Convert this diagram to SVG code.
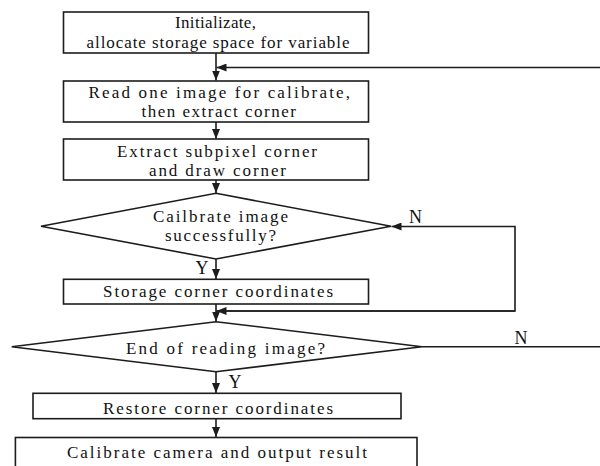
<svg xmlns="http://www.w3.org/2000/svg" width="600" height="466" viewBox="0 0 600 466">
<defs>
<style>
.s{fill:#fff;stroke:#1c1c1c;stroke-width:1.6}
.c{fill:none;stroke:#1c1c1c;stroke-width:1.6}
text{font-family:"Liberation Serif","Times New Roman",serif;font-size:17px;fill:#111}
</style>
<marker id="a" viewBox="0 0 10 8" refX="10" refY="4" markerWidth="10" markerHeight="8" markerUnits="userSpaceOnUse" orient="auto">
<path d="M0,0 L10,4 L0,8 Z" fill="#1c1c1c"/>
</marker>
</defs>
<rect width="600" height="466" fill="#fff"/>
<g id="connectors">
<line class="c" x1="216" y1="53" x2="216" y2="80.5" marker-end="url(#a)"/>
<line class="c" x1="600" y1="67.5" x2="216.5" y2="67.5" marker-end="url(#a)"/>
<line class="c" x1="216" y1="122" x2="216" y2="139" marker-end="url(#a)"/>
<line class="c" x1="216" y1="180" x2="216" y2="193" marker-end="url(#a)"/>
<line class="c" x1="216" y1="259" x2="216" y2="279" marker-end="url(#a)"/>
<line class="c" x1="216" y1="304" x2="216" y2="321.5" marker-end="url(#a)"/>
<polyline class="c" points="422,346.7 600,346.7"/>
<polyline class="c" points="216,311 515,311 515,226.5 391.5,226.5" marker-end="url(#a)"/>
<line class="c" x1="515" y1="311" x2="216.5" y2="311" marker-end="url(#a)"/>
<line class="c" x1="216" y1="372" x2="216" y2="393" marker-end="url(#a)"/>
<line class="c" x1="216" y1="419" x2="216" y2="437" marker-end="url(#a)"/>
<text x="409" y="223" style="font-size:18px">N</text>
<text x="202" y="274" text-anchor="middle" style="font-size:18px">Y</text>
<text x="521" y="343.5" text-anchor="middle" style="font-size:18px">N</text>
<text x="235" y="387.5" text-anchor="middle" style="font-size:18px">Y</text>
</g>
<g id="n1">
<rect class="s" x="63.5" y="12" width="305" height="41"/>
<text x="175" y="28" textLength="81" lengthAdjust="spacing">Initializate,</text>
<text x="86.5" y="48" textLength="263" lengthAdjust="spacing">allocate storage space for variable</text>
</g>
<g id="n2">
<rect class="s" x="63.5" y="81" width="305" height="41"/>
<text x="88.5" y="97.5" textLength="261.5" lengthAdjust="spacing">Read one image for calibrate,</text>
<text x="141.5" y="117" textLength="154.5" lengthAdjust="spacing">then extract corner</text>
</g>
<g id="n3">
<rect class="s" x="63.5" y="139" width="305" height="41"/>
<text x="117" y="156.5" textLength="200" lengthAdjust="spacing">Extract subpixel corner</text>
<text x="149" y="175.5" textLength="137" lengthAdjust="spacing">and draw corner</text>
</g>
<g id="d1">
<polygon class="s" points="216,193.3 391,226.3 216,259 41,226.3"/>
<text x="153" y="222" textLength="135" lengthAdjust="spacing">Cailbrate image</text>
<text x="165" y="241" textLength="111" lengthAdjust="spacing">successfully?</text>
</g>
<g id="n4">
<rect class="s" x="63.5" y="279.3" width="305" height="24.7"/>
<text x="103" y="297" textLength="230" lengthAdjust="spacing">Storage corner coordinates</text>
</g>
<g id="d2">
<polygon class="s" points="216,321.7 422,346.7 216,371.7 11.7,346.7"/>
<text x="126" y="353.5" textLength="199" lengthAdjust="spacing">End of reading image?</text>
</g>
<g id="n5">
<rect class="s" x="33" y="393.3" width="368" height="25.4"/>
<text x="103" y="413.5" textLength="230" lengthAdjust="spacing">Restore corner coordinates</text>
</g>
<g id="n6">
<rect class="s" x="15.4" y="437.5" width="401.6" height="40"/>
<text x="67" y="457.5" textLength="300" lengthAdjust="spacing">Calibrate camera and output result</text>
</g>
</svg>
